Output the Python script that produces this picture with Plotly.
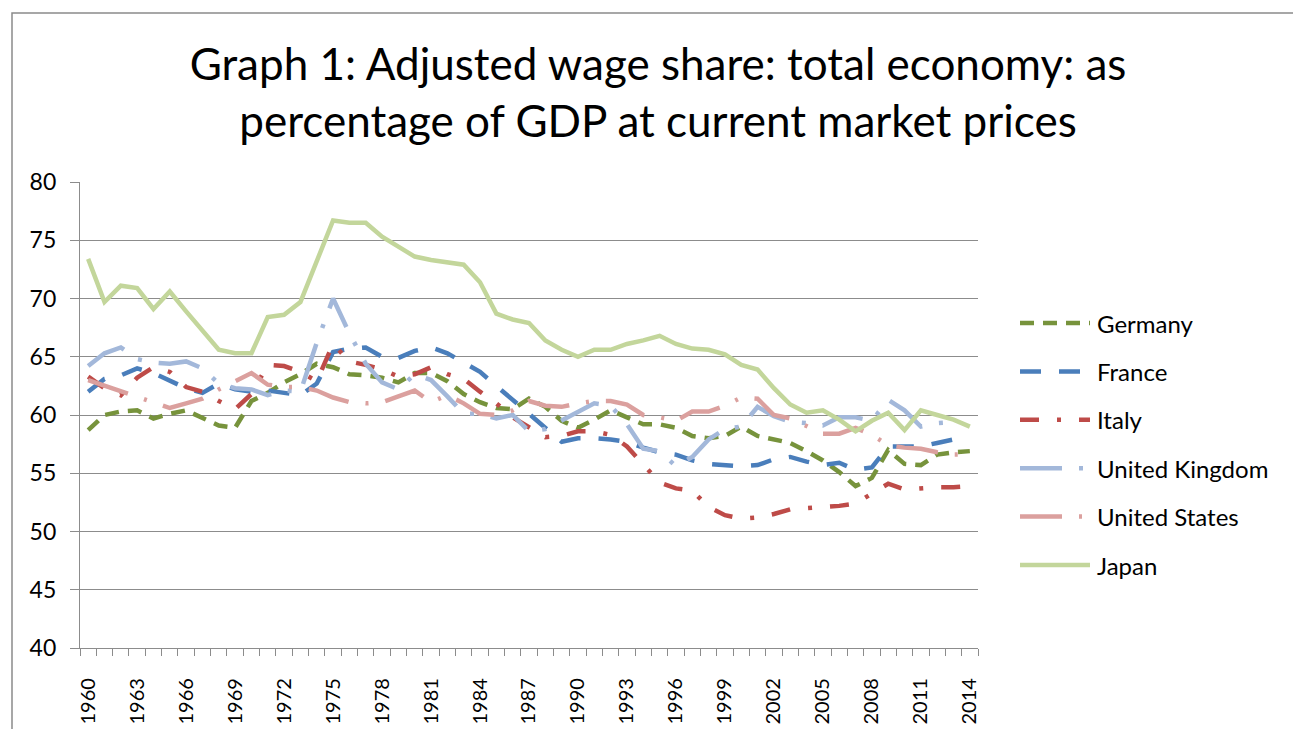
import plotly.graph_objects as go

# ---------------- data ----------------
years = list(range(1960, 2015))
tick_years = list(range(1960, 2015, 3))
tick_labels = [str(y) for y in tick_years]
y_ticks = [40, 45, 50, 55, 60, 65, 70, 75, 80]

countries = ["Germany", "France", "Italy", "United Kingdom", "United States", "Japan"]

germany = [58.7, 60.0, 60.3, 60.4, 59.7, 60.1, 60.4, 59.7, 59.1, 58.9,
           61.2, 61.9, 62.8, 63.5, 64.4, 64.1, 63.5, 63.4, 63.2, 62.8,
           63.6, 63.6, 62.9, 61.8, 61.1, 60.6, 60.5, 61.4, 60.7, 59.5,
           58.9, 59.6, 60.4, 59.8, 59.2, 59.2, 58.9, 58.2, 58.0, 58.2,
           59.0, 58.2, 57.9, 57.6, 56.9, 56.1, 55.1, 53.9, 54.6, 57.0,
           55.8, 55.7, 56.6, 56.8, 56.9]
france = [62.0, 63.1, 63.4, 64.0, 63.6, 63.0, 62.3, 61.9, 62.7, 62.2,
          62.0, 62.1, 61.9, 61.7, 62.7, 65.4, 65.7, 65.8, 65.0, 64.9,
          65.5, 65.8, 65.3, 64.5, 63.7, 62.5, 61.3, 60.1, 58.9, 57.7,
          58.0, 58.0, 57.9, 57.7, 57.2, 56.8, 56.6, 56.1, 55.8, 55.7,
          55.6, 55.7, 56.2, 56.4, 56.0, 55.7, 55.9, 55.3, 55.5, 57.3,
          57.3, 57.3, 57.6, 57.9, 58.0]
italy = [63.3, 62.3, 61.7, 63.2, 64.1, 63.7, 62.4, 62.0, 61.2, 60.5,
         61.8, 64.3, 64.2, 63.7, 62.9, 66.1, 64.6, 64.3, 63.9, 63.3,
         63.5, 64.1, 63.5, 63.1, 62.0, 61.0, 59.8, 59.0, 58.1, 58.2,
         58.6, 58.6, 58.3, 57.3, 55.8, 54.2, 53.7, 53.5, 52.1, 51.4,
         51.1, 51.2, 51.5, 51.9, 52.0, 52.1, 52.2, 52.4, 53.2, 54.1,
         53.6, 53.7, 53.8, 53.8, 53.9]
united_kingdom = [64.2, 65.3, 65.8, 64.8, 64.5, 64.4, 64.6, 64.0, 62.7, 62.3,
                  62.2, 61.7, 62.1, 62.0, 66.2, 70.0, 67.0, 64.4, 62.8, 62.2,
                  63.5, 63.0, 61.6, 60.1, 60.1, 59.7, 60.0, 58.6, 58.8, 59.5,
                  60.3, 61.0, 60.8, 59.2, 57.1, 56.9, 55.6, 56.4, 57.9, 58.8,
                  59.0, 60.7, 59.9, 59.4, 59.3, 59.1, 59.8, 59.8, 59.5, 61.3,
                  60.4, 59.0, 59.3, 59.4, None]
united_states = [63.0, 62.5, 62.0, 61.5, 61.0, 60.6, 61.0, 61.4, 62.2, 62.9,
                 63.6, 62.6, 62.4, 62.4, 62.1, 61.5, 61.1, 61.0, 61.1, 61.6,
                 62.1, 61.1, 61.7, 61.0, 60.1, 60.0, 60.4, 61.2, 60.8, 60.7,
                 61.0, 61.2, 61.2, 60.9, 60.0, 59.8, 59.5, 60.3, 60.3, 60.8,
                 61.5, 61.4, 60.0, 59.7, 59.0, 58.4, 58.4, 58.9, 58.3, 57.4,
                 57.2, 57.1, 56.8, 56.6, 56.6]
japan = [73.4, 69.7, 71.1, 70.9, 69.1, 70.6, 68.9, 67.2, 65.6, 65.3,
         65.3, 68.4, 68.6, 69.7, 73.2, 76.7, 76.5, 76.5, 75.3, 74.4,
         73.6, 73.3, 73.1, 72.9, 71.4, 68.7, 68.2, 67.9, 66.4, 65.6,
         65.0, 65.6, 65.6, 66.1, 66.4, 66.8, 66.1, 65.7, 65.6, 65.2,
         64.3, 63.9, 62.3, 60.9, 60.2, 60.4, 59.6, 58.6, 59.5, 60.2,
         58.7, 60.4, 60.0, 59.6, 59.0]

series = [germany, france, italy, united_kingdom, united_states, japan]

# ---------------- styles ----------------
colors = ["#77933C", "#4A7EBB", "#BE4B48", "#A3B8DA", "#DBA09E", "#C3D69B"]
dashes = ["14px,9px", "21px,18px", "19px,18px,4px,18px",
          "42px,17px,4px,17px", "42px,17px,3px,17px", "solid"]
LW = 4.5
FONT = "Lato, 'Open Sans', sans-serif"
GRID = "#8C8C8C"

# plot area in pixels
W, H = 1293, 729
PL, PR, PT, PB = 80, 978, 182, 648

fig = go.Figure()
for name, vals, col, dsh in zip(countries, series, colors, dashes):
    fig.add_trace(go.Scatter(
        x=years, y=vals, name=name, mode="lines",
        line=dict(color=col, width=LW, dash=dsh),
        connectgaps=False, showlegend=False,
    ))

def px_x(p):
    return (p - PL) / (PR - PL)

def px_y(p):
    return (PB - p) / (PB - PT)

shapes = []
annotations = []
# custom legend
for i, (name, col, dsh) in enumerate(zip(countries, colors, dashes)):
    yc = 323 + i * 48.4
    shapes.append(dict(type="line", xref="paper", yref="paper",
                       x0=px_x(1020), x1=px_x(1090), y0=px_y(yc), y1=px_y(yc),
                       line=dict(color=col, width=LW, dash=dsh)))
    annotations.append(dict(text=name, xref="paper", yref="paper",
                            x=px_x(1095), y=px_y(yc), xanchor="left", yanchor="middle",
                            showarrow=False, font=dict(family=FONT, size=24, color="#000")))

# outer chart border
shapes.append(dict(type="rect", xref="paper", yref="paper",
                   x0=px_x(12), x1=px_x(1320), y0=px_y(760), y1=px_y(13),
                   line=dict(color="#8A8A8A", width=1.5), fillcolor="rgba(0,0,0,0)"))

fig.update_layout(
    width=W, height=H,
    margin=dict(l=PL, r=W - PR, t=PT, b=H - PB, autoexpand=False),
    paper_bgcolor="white", plot_bgcolor="white",
    title=dict(text="Graph 1: Adjusted wage share: total economy: as<br>percentage of GDP at current market prices",
               x=658 / W, xref="container", xanchor="center",
               y=1 - 80 / H, yref="container", yanchor="top",
               font=dict(family=FONT, size=44, color="#000")),
    font=dict(family=FONT, color="#000"),
    shapes=shapes, annotations=annotations,
    showlegend=False,
)

fig.update_xaxes(
    range=[1959.5, 2014.5], tickmode="array", tickvals=tick_years, ticktext=tick_labels,
    tickangle=-90, tickfont=dict(family=FONT, size=20, color="#000"),
    ticks="outside", ticklen=7, tickcolor="rgba(0,0,0,0)", ticklabelstandoff=14,
    showgrid=False, zeroline=False, automargin=False,
    showline=True, linecolor=GRID, linewidth=1.3,
    minor=dict(tick0=1959.5, dtick=1, ticks="outside", ticklen=7, tickcolor=GRID,
               tickwidth=1.2, showgrid=False),
)
fig.update_yaxes(
    range=[40, 80], tickmode="array", tickvals=y_ticks,
    tickfont=dict(family=FONT, size=23, color="#000"),
    ticks="outside", ticklen=9, tickcolor=GRID, tickwidth=1.2, ticklabelstandoff=9,
    showgrid=True, gridcolor=GRID, gridwidth=1.3, zeroline=False, automargin=False,
    showline=True, linecolor=GRID, linewidth=1.3,
)

fig.write_html("out.html", config={"displayModeBar": False},
               post_script="document.body.style.margin='0px';document.body.style.overflow='hidden';")
